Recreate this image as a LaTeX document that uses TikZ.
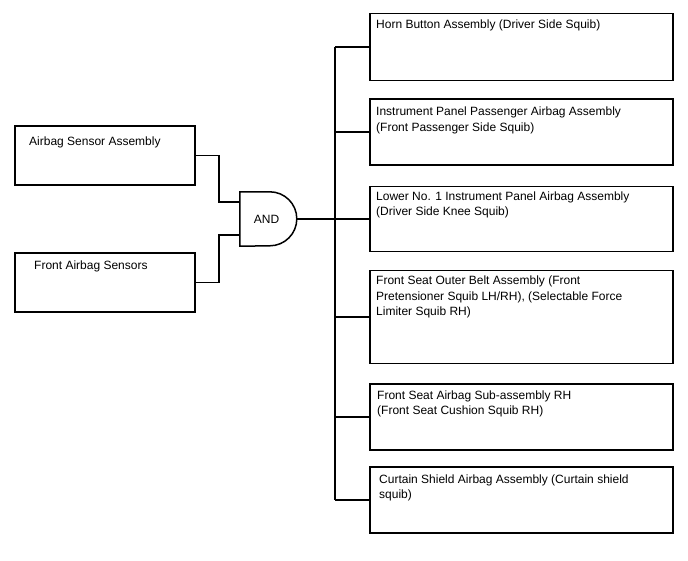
\documentclass[tikz,border=0pt]{standalone}
\usepackage{fontspec}
\setmainfont{Liberation Sans}
\begin{document}
\begin{tikzpicture}[x=1pt,y=-1pt,
  box/.style={draw, line width=1.8pt, minimum width=303pt, inner sep=0pt},
  lbox/.style={draw, line width=1.8pt, minimum width=180pt, minimum height=59pt, inner sep=0pt},
  txt/.style={anchor=base west, align=left, inner sep=0pt, font=\fontsize{12}{15.5}\selectfont},
  wire/.style={line width=1.2pt},
  gateline/.style={line width=1.5pt}
]
\useasboundingbox[fill=white] (0,0) rectangle (688,560);

% right-hand boxes
\node[box, minimum height=67pt] (b1) at (521.5,47) {};
\node[box, minimum height=66pt] (b2) at (521.5,132) {};
\node[box, minimum height=65pt] (b3) at (521.5,219) {};
\node[box, minimum height=93pt] (b4) at (521.5,317) {};
\node[box, minimum height=66pt] (b5) at (521.5,417) {};
\node[box, minimum height=66pt] (b6) at (521.5,500) {};

% (base anchor = baseline of the last line)
\node[txt] (t1) at (376,28) {Horn Button Assembly (Driver Side Squib)};
\node[txt] (t2) at (376,131) {Instrument Panel Passenger Airbag Assembly\\(Front Passenger Side Squib)};
\node[txt] (t3) at (376,215.5) {Lower No. 1 Instrument Panel Airbag Assembly\\(Driver Side Knee Squib)};
\node[txt] (t4) at (376,315.5) {Front Seat Outer Belt Assembly (Front\\Pretensioner Squib LH/RH), (Selectable Force\\Limiter Squib RH)};
\node[txt] (t5) at (377,414.5) {Front Seat Airbag Sub-assembly RH\\(Front Seat Cushion Squib RH)};
\node[txt] (t6) at (379,498.5) {Curtain Shield Airbag Assembly (Curtain shield\\squib)};

% left-hand boxes
\node[lbox] (sa) at (105,155.5) {};
\node[lbox] (fs) at (105,282.5) {};
\node[txt] (tsa) at (29,145) {Airbag Sensor Assembly};
\node[txt] (tfs) at (34,269) {Front Airbag Sensors};

% AND gate
\node[minimum width=57pt, minimum height=54pt, inner sep=0pt, font=\fontsize{12}{14}\selectfont] (gate) at (268.5,219) {\hspace*{-4pt}AND};
\draw[gateline] (gate.north west) -- ++(30,0) arc[start angle=-90, end angle=90, radius=27] -- (gate.south west) -- cycle;

% inputs
\coordinate (jx) at (219,0);
\draw[wire] (sa.east) -- (sa.east -| jx) |- ([yshift=17pt]gate.west);
\draw[wire] (fs.east) -- (fs.east -| jx) |- ([yshift=-16pt]gate.west);

% output and bus
\coordinate (bx) at (335,0);
\draw[wire] (gate.east) -- (b3.west);
\draw[wire] (bx |- b1.west) -- (bx |- b6.west);
\foreach \i in {1,...,6} \draw[wire] (bx |- b\i.west) -- (b\i.west);
\end{tikzpicture}
\end{document}
